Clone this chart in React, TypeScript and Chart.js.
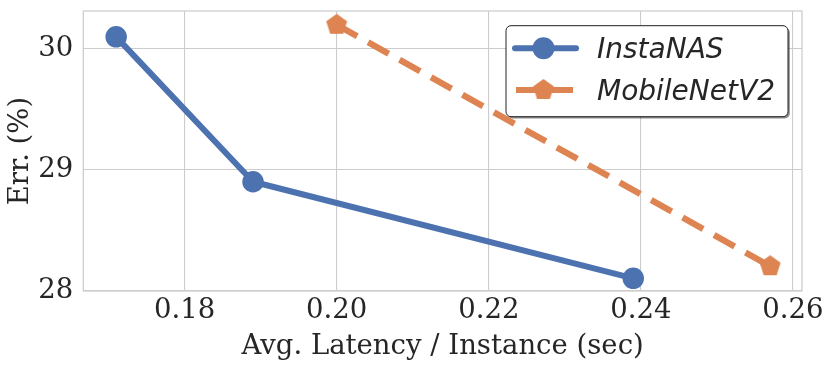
import React, { useEffect, useRef } from "react";
import { Chart, registerables } from "chart.js";

Chart.register(...registerables);

const instaLatency = [0.171, 0.189, 0.239];
const instaErr = [30.1, 28.9, 28.1];
const mobileLatency = [0.2, 0.257];
const mobileErr = [30.2, 28.2];
const xTicks = [0.18, 0.2, 0.22, 0.24, 0.26];
const yTicks = [28, 29, 30];
const seriesNames = ["InstaNAS", "MobileNetV2"];
const xTitle = "Avg. Latency / Instance (sec)";
const yTitle = "Err. (%)";

const BLUE = "#4c72b0";
const ORANGE = "#dd8452";
const GRID = "#cccccc";
const TEXT = "#262626";

function makePentagon(R: number, color: string): HTMLCanvasElement {
  const size = Math.ceil(R * 2 + 4);
  const c = document.createElement("canvas");
  c.width = size;
  c.height = size;
  const ctx = c.getContext("2d")!;
  const cx = size / 2;
  const cy = size / 2;
  ctx.beginPath();
  for (let k = 0; k < 5; k++) {
    const a = -Math.PI / 2 + (k * 2 * Math.PI) / 5;
    const px = cx + R * Math.cos(a);
    const py = cy + R * Math.sin(a);
    if (k === 0) ctx.moveTo(px, py);
    else ctx.lineTo(px, py);
  }
  ctx.closePath();
  ctx.fillStyle = color;
  ctx.fill();
  return c;
}

function roundRect(ctx: CanvasRenderingContext2D, x: number, y: number, w: number, h: number, r: number) {
  ctx.beginPath();
  ctx.moveTo(x + r, y);
  ctx.lineTo(x + w - r, y);
  ctx.arcTo(x + w, y, x + w, y + r, r);
  ctx.lineTo(x + w, y + h - r);
  ctx.arcTo(x + w, y + h, x + w - r, y + h, r);
  ctx.lineTo(x + r, y + h);
  ctx.arcTo(x, y + h, x, y + h - r, r);
  ctx.lineTo(x, y + r);
  ctx.arcTo(x, y, x + r, y, r);
  ctx.closePath();
}

export default function App() {
  const ref = useRef<HTMLCanvasElement | null>(null);

  useEffect(() => {
    document.body.style.margin = "0";
    const canvas = ref.current;
    if (!canvas) return;
    const pent = makePentagon(11, ORANGE);

    const framePlugin = {
      id: "frame",
      beforeDatasetsDraw(chart: any) {
        const { ctx, chartArea } = chart;
        ctx.save();
        ctx.strokeStyle = GRID;
        ctx.lineWidth = 1.25;
        ctx.strokeRect(chartArea.left, chartArea.top, chartArea.right - chartArea.left, chartArea.bottom - chartArea.top);
        ctx.restore();
      },
    };

    const legendPlugin = {
      id: "customLegend",
      afterDraw(chart: any) {
        const { ctx, chartArea } = chart;
        const w = 282;
        const h = 91;
        const x = chartArea.right - 14 - w;
        const y = chartArea.top + 14.7;
        ctx.save();
        ctx.fillStyle = "rgba(0,0,0,0.45)";
        roundRect(ctx, x + 1.8, y + 1.8, w, h, 5);
        ctx.fill();
        ctx.fillStyle = "#ffffff";
        roundRect(ctx, x, y, w, h, 5);
        ctx.fill();
        ctx.strokeStyle = "#222222";
        ctx.lineWidth = 1;
        ctx.stroke();

        const rows = [y + 22.6, y + 64.3];
        ctx.strokeStyle = BLUE;
        ctx.lineWidth = 6;
        ctx.lineCap = "round";
        ctx.beginPath();
        ctx.moveTo(x + 9, rows[0]);
        ctx.lineTo(x + 70, rows[0]);
        ctx.stroke();
        ctx.fillStyle = BLUE;
        ctx.beginPath();
        ctx.arc(x + 37.5, rows[0], 11, 0, Math.PI * 2);
        ctx.fill();
        ctx.strokeStyle = ORANGE;
        ctx.lineCap = "butt";
        ctx.beginPath();
        ctx.moveTo(x + 10, rows[1]);
        ctx.lineTo(x + 67, rows[1]);
        ctx.stroke();
        ctx.drawImage(pent, x + 37.5 - pent.width / 2, rows[1] - pent.height / 2);

        ctx.fillStyle = TEXT;
        ctx.font = "italic 28px 'DejaVu Sans'";
        ctx.textBaseline = "alphabetic";
        ctx.textAlign = "left";
        ctx.fillText(seriesNames[0], x + 91, rows[0] + 10);
        ctx.fillText(seriesNames[1], x + 91, rows[1] + 10);
        ctx.restore();
      },
    };

    const chart = new Chart(canvas, {
      type: "scatter",
      data: {
        datasets: [
          {
            label: seriesNames[0],
            data: instaLatency.map((v, i) => ({ x: v, y: instaErr[i] })),
            showLine: true,
            borderColor: BLUE,
            backgroundColor: BLUE,
            borderWidth: 6,
            borderJoinStyle: "round",
            pointRadius: 10,
            pointBorderWidth: 1.5,
            pointBorderColor: BLUE,
            pointBackgroundColor: BLUE,
            clip: false,
            order: 1,
          } as any,
          {
            label: seriesNames[1],
            data: mobileLatency.map((v, i) => ({ x: v, y: mobileErr[i] })),
            showLine: true,
            borderColor: ORANGE,
            backgroundColor: ORANGE,
            borderWidth: 6.3,
            borderDash: [23.5, 12.5],
            borderCapStyle: "butt",
            pointStyle: pent,
            pointRadius: 11,
            clip: false,
            order: 0,
          } as any,
        ],
      },
      options: {
        animation: false,
        responsive: false,
        devicePixelRatio: 1,
        layout: { autoPadding: false, padding: { top: 11, right: 28, left: 0, bottom: 0 } },
        plugins: { legend: { display: false }, tooltip: { enabled: false } },
        scales: {
          x: {
            type: "linear",
            min: 0.16668,
            max: 0.26119,
            afterFit: (s: any) => {
              s.height = 76;
              s.paddingLeft = 0;
              s.paddingRight = 0;
            },
            afterBuildTicks: (s: any) => {
              s.ticks = xTicks.map((v) => ({ value: v }));
            },
            grid: { color: GRID, lineWidth: 1.1, drawTicks: false },
            border: { display: false },
            ticks: {
              color: TEXT,
              padding: 3,
              font: { family: "'DejaVu Serif'", size: 27.5 },
              callback: (v: any) => Number(v).toFixed(2),
            },
            title: {
              display: true,
              text: xTitle,
              color: TEXT,
              font: { family: "'DejaVu Serif'", size: 27.5 },
              padding: 4,
            },
          },
          y: {
            type: "linear",
            min: 27.995,
            max: 30.314,
            afterFit: (s: any) => {
              s.width = 83.3;
              s.paddingTop = 0;
              s.paddingBottom = 0;
            },
            afterBuildTicks: (s: any) => {
              s.ticks = yTicks.map((v) => ({ value: v }));
            },
            grid: { color: GRID, lineWidth: 1.1, drawTicks: false },
            border: { display: false },
            ticks: {
              color: TEXT,
              padding: 10,
              font: { family: "'DejaVu Serif'", size: 27.5 },
              callback: (v: any) => Number(v).toFixed(0),
            },
            title: {
              display: true,
              text: yTitle,
              color: TEXT,
              font: { family: "'DejaVu Serif'", size: 27.5 },
              padding: 4,
            },
          },
        },
      },
      plugins: [framePlugin, legendPlugin],
    });
    return () => chart.destroy();
  }, []);

  return (
    <div style={{ width: 830, height: 367 }}>
      <canvas ref={ref} width={830} height={367} />
    </div>
  );
}
